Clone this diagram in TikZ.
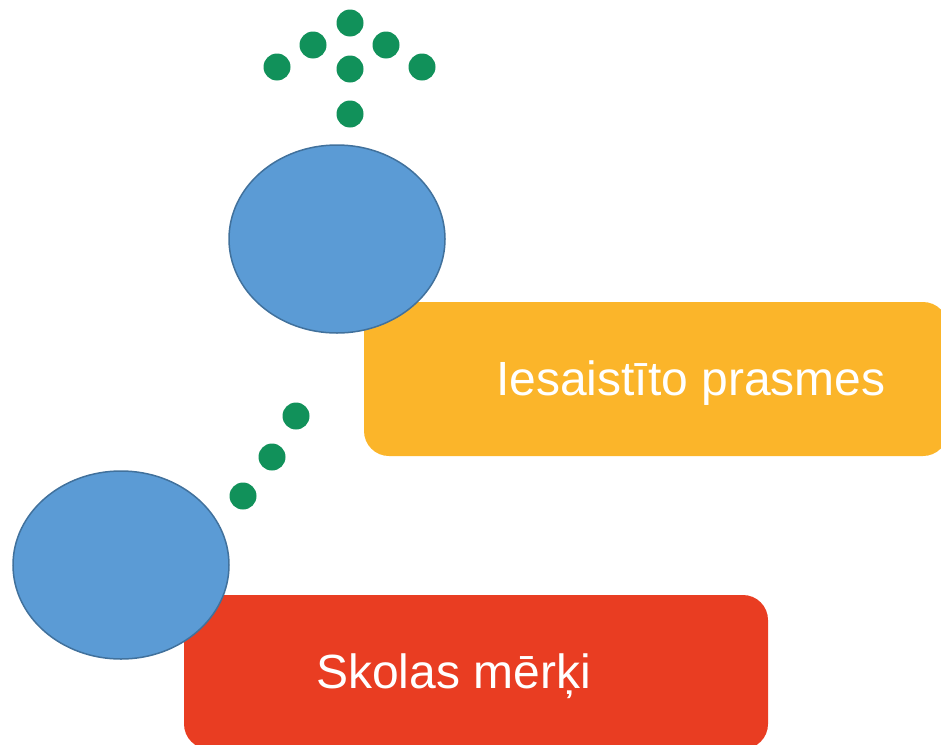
\documentclass[tikz,border=0pt]{standalone}
\usepackage{fontspec}
\setmainfont{Liberation Sans}
\usetikzlibrary{shapes.geometric}
\definecolor{dotgreen}{HTML}{11915A}
\definecolor{circblue}{HTML}{5B9BD5}
\definecolor{circedge}{HTML}{41719C}
\definecolor{boxorange}{HTML}{FBB52A}
\definecolor{boxred}{HTML}{E93D22}
\tikzset{
  gdot/.style={circle,fill=dotgreen,draw=none,minimum size=27pt,inner sep=0pt},
  bigcirc/.style={ellipse,fill=circblue,draw=circedge,line width=1.5pt,minimum width=216pt,minimum height=188pt,inner sep=0pt},
  listbox/.style={rectangle,rounded corners=25pt,draw=none,minimum width=584pt,minimum height=154pt,inner sep=0pt},
  boxtext/.style={anchor=base west,inner sep=0pt,text=white,font=\fontsize{48pt}{57pt}\selectfont}
}
\begin{document}
\begin{tikzpicture}[x=1pt,y=-1pt]
\useasboundingbox (0,0) rectangle (941,744);
\clip (0,0) rectangle (941,744);
% boxes
\node[listbox,fill=boxorange] (box1) at (656,379) {};
\node[listbox,fill=boxred] (box2) at (476,672) {};
\node[boxtext] (t1) at (496,395) {Iesaistīto prasmes};
\node[boxtext] (t2) at (316,688) {Skolas mērķi};
% circles
\node[bigcirc] (c1) at (337,239) {};
\node[bigcirc] (c2) at (121,565) {};
% top dot arrow
\node[gdot] (d1) at (350,23) {};
\node[gdot] (d2) at (313,45) {};
\node[gdot] (d3) at (386,45) {};
\node[gdot] (d4) at (277,67) {};
\node[gdot] (d5) at (350,69) {};
\node[gdot] (d6) at (422,67) {};
\node[gdot] (d7) at (350,114) {};
% diagonal dots
\node[gdot] (e1) at (296,416) {};
\node[gdot] (e2) at (272,457) {};
\node[gdot] (e3) at (243,496) {};
\end{tikzpicture}
\end{document}
